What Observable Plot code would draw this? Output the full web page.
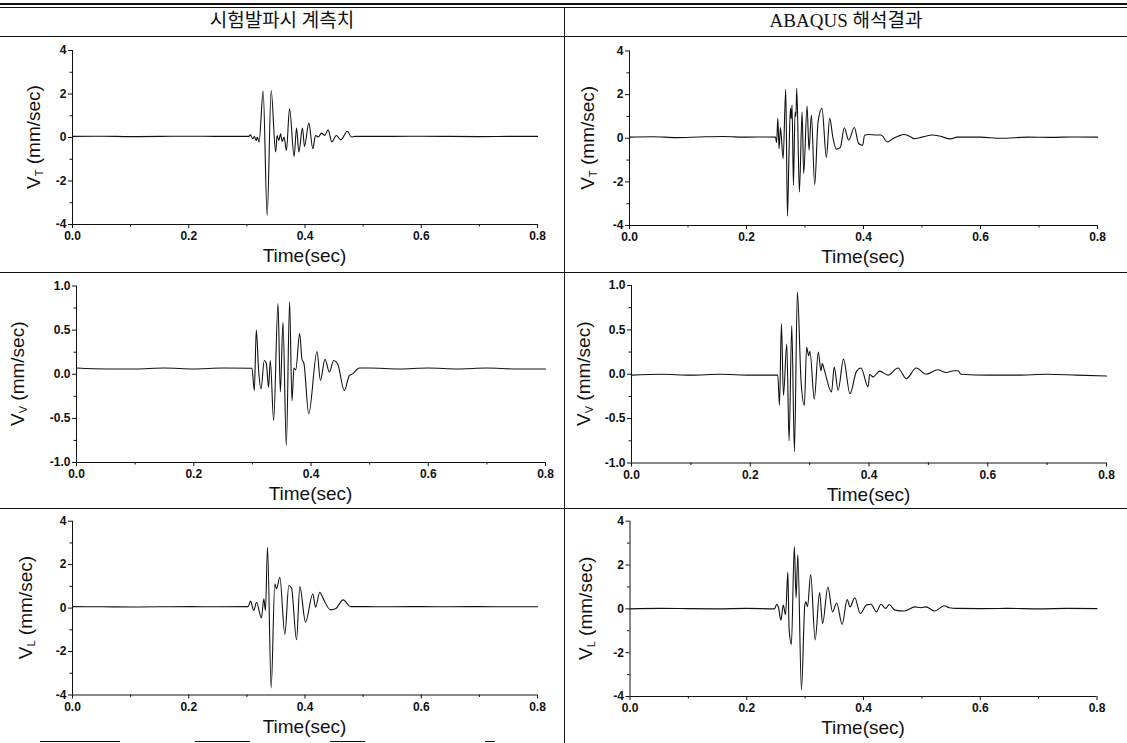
<!DOCTYPE html>
<html><head><meta charset="utf-8">
<script src="https://cdn.jsdelivr.net/npm/d3@7"></script>
<script src="https://cdn.jsdelivr.net/npm/@observablehq/plot@0.6"></script>
<style>
body{margin:0;background:#fff;}
#page{position:relative;width:1127px;height:743px;overflow:hidden;background:#fff;}
.hl{position:absolute;background:#111;}
.hdr{position:absolute;top:6px;height:30px;line-height:30px;text-align:center;font-size:19px;font-family:"Liberation Serif","Noto Sans CJK KR",serif;color:#111;white-space:nowrap;}
.cell{position:absolute;}
</style></head><body><div id="page"></div>
<script>
// ---------- data ----------
const headers = ["시험발파시 계측치", "ABAQUS 해석결과"];
const xTicks = [0, 0.2, 0.4, 0.6, 0.8];
const xMinor = [0.1, 0.3, 0.5, 0.7];
const yTicks4 = [-4, -2, 0, 2, 4];
const yMinor4 = [-3, -1, 1, 3];
const yTicks1 = [-1, -0.5, 0, 0.5, 1];
const yMinor1 = [-0.75, -0.25, 0.25, 0.75];
const xLabel = "Time(sec)";
const yUnit = " (mm/sec)";

// [time (s), velocity (mm/s)]
const measuredVT = [[0,0.05],[0.05,0.06],[0.1,0.04],[0.15,0.05],[0.2,0.06],[0.25,0.05],[0.3033,0.05],[0.306,0.12],[0.31,-0.06],[0.313,0.04],[0.316,-0.14],[0.318,0.02],[0.321,-0.21],[0.328,2.13],[0.3349,-3.59],[0.3418,2.16],[0.3495,-0.67],[0.352,0.09],[0.355,-0.14],[0.358,0.17],[0.3607,-0.18],[0.364,0.02],[0.368,-0.6],[0.3734,1.32],[0.3813,-0.87],[0.3854,0.44],[0.3894,-0.66],[0.3957,0.44],[0.3991,-0.41],[0.4066,0.66],[0.4135,-0.52],[0.418,0.09],[0.423,0.02],[0.4284,0.2],[0.434,0.1],[0.4398,0.35],[0.446,-0.2],[0.454,0.09],[0.4616,-0.11],[0.473,0.29],[0.48,0.02],[0.486,0.05],[0.55,0.05],[0.6,0.06],[0.65,0.05],[0.7,0.04],[0.75,0.05],[0.8,0.05]];

const abaqusVT = [[0,0.05],[0.04,0.07],[0.08,0.03],[0.12,0.06],[0.16,0.08],[0.2,0.05],[0.24,0.06],[0.2495,0.05],[0.2515,-0.2],[0.2535,0.91],[0.2557,-0.48],[0.258,0.49],[0.2626,-0.93],[0.2671,2.24],[0.27,-3.57],[0.2728,-0.5],[0.2751,1.37],[0.2765,0.9],[0.2779,1.52],[0.2802,-2.15],[0.283,1.2],[0.2845,1.0],[0.2859,2.29],[0.2904,-2.46],[0.295,1.21],[0.2978,-1.62],[0.3035,1.48],[0.3069,-0.55],[0.3109,1.06],[0.3166,-2.13],[0.3223,0.75],[0.3291,1.37],[0.3365,-0.88],[0.3422,0.91],[0.3479,0.0],[0.3536,-0.5],[0.3604,-0.42],[0.3672,0.48],[0.3746,-0.09],[0.3843,0.49],[0.3917,-0.24],[0.3985,-0.32],[0.4019,0.14],[0.4087,0.17],[0.422,0.15],[0.43,0.15],[0.441,-0.17],[0.45,-0.02],[0.46,0.1],[0.469,0.17],[0.478,0.1],[0.487,-0.02],[0.5,0.05],[0.518,0.15],[0.53,0.1],[0.549,-0.03],[0.56,0.05],[0.6,0.05],[0.635,0.0],[0.68,0.05],[0.72,0.04],[0.76,0.06],[0.8,0.05]];

const measuredVV = [[0,0.07],[0.05,0.06],[0.1,0.06],[0.15,0.07],[0.2,0.06],[0.25,0.07],[0.2993,0.068],[0.3033,-0.185],[0.3067,0.5],[0.3107,0.04],[0.3147,-0.166],[0.3203,0.155],[0.3237,0.125],[0.3277,-0.147],[0.3306,0.155],[0.3363,-0.525],[0.3437,0.8],[0.3477,-0.2],[0.3522,0.59],[0.3579,-0.81],[0.3635,0.82],[0.3675,-0.3],[0.371,0.07],[0.374,0.05],[0.3806,0.46],[0.3846,0.17],[0.388,0.12],[0.3961,-0.45],[0.4103,0.257],[0.416,-0.07],[0.4239,0.17],[0.4313,0.023],[0.4387,0.155],[0.4455,0.117],[0.4569,-0.185],[0.4654,-0.015],[0.471,0.004],[0.4824,0.07],[0.5,0.07],[0.55,0.06],[0.6,0.07],[0.65,0.06],[0.7,0.07],[0.75,0.06],[0.8,0.06]];

const abaqusVV = [[0,-0.01],[0.05,0.0],[0.1,-0.01],[0.15,0.0],[0.2,-0.01],[0.2464,-0.01],[0.2492,-0.35],[0.2525,0.57],[0.2559,-0.24],[0.2615,0.34],[0.2654,-0.75],[0.2699,0.55],[0.2744,-0.87],[0.2794,0.925],[0.2855,-0.07],[0.2911,-0.35],[0.295,0.305],[0.2984,0.21],[0.3005,0.26],[0.3079,-0.28],[0.3146,0.25],[0.3191,0.04],[0.3213,0.12],[0.3247,0.05],[0.3369,-0.2],[0.3414,0.08],[0.348,-0.18],[0.357,0.17],[0.368,-0.22],[0.3788,0.03],[0.3866,0.07],[0.3984,-0.14],[0.4012,0.0],[0.4068,-0.03],[0.418,0.035],[0.432,-0.01],[0.4488,0.07],[0.4628,-0.05],[0.4796,0.07],[0.4963,0.0],[0.516,0.05],[0.53,0.02],[0.5439,0.04],[0.55,0.04],[0.555,0.0],[0.6,-0.01],[0.65,-0.01],[0.7,0.0],[0.75,-0.01],[0.8,-0.02]];

const measuredVL = [[0,0.07],[0.05,0.06],[0.1,0.05],[0.15,0.06],[0.2,0.07],[0.25,0.06],[0.3022,0.07],[0.3062,0.32],[0.3119,-0.11],[0.3165,0.27],[0.3251,-0.45],[0.3291,0.43],[0.332,-0.11],[0.3355,2.8],[0.3418,-3.67],[0.3481,1.12],[0.351,0.89],[0.3567,1.42],[0.3653,-1.21],[0.3722,1.04],[0.3768,0.93],[0.3854,-1.46],[0.3911,0.99],[0.4009,-0.65],[0.4135,0.66],[0.4181,0.04],[0.4255,0.73],[0.4307,0.47],[0.4439,-0.08],[0.4525,-0.03],[0.4657,0.38],[0.4783,0.07],[0.5,0.07],[0.55,0.06],[0.6,0.07],[0.65,0.06],[0.7,0.07],[0.75,0.06],[0.8,0.06]];

const abaqusVL = [[0,0.0],[0.05,0.02],[0.1,0.01],[0.15,0.0],[0.2,0.02],[0.2475,0.0],[0.2515,0.21],[0.2545,0.05],[0.2585,-0.52],[0.2625,0.17],[0.2665,-0.26],[0.2704,1.68],[0.2725,-0.9],[0.2765,-1.62],[0.2815,2.86],[0.2845,0.5],[0.2875,2.47],[0.2937,-3.7],[0.2995,0.17],[0.3015,0.32],[0.304,0.1],[0.3095,1.56],[0.3172,-1.42],[0.3248,0.74],[0.3299,-0.67],[0.339,1.0],[0.347,-0.14],[0.354,0.27],[0.3635,-0.71],[0.372,0.42],[0.377,0.09],[0.385,0.51],[0.3945,-0.21],[0.405,0.17],[0.413,0.21],[0.422,-0.14],[0.43,0.21],[0.438,0.02],[0.444,0.2],[0.454,-0.06],[0.47,-0.1],[0.488,0.09],[0.498,0.05],[0.507,0.09],[0.522,-0.1],[0.538,0.14],[0.547,0.05],[0.56,0.02],[0.6,0.01],[0.65,0.02],[0.7,0.0],[0.75,0.02],[0.8,0.01]];

// ---------- layout ----------
const page = document.getElementById("page");
function hline(x, y, w, h){ const d=document.createElement("div"); d.className="hl"; Object.assign(d.style,{left:x+"px",top:y+"px",width:w+"px",height:h+"px"}); page.appendChild(d); }
hline(0,3,1127,2);     // top double rule (thick)
hline(0,7,1127,1);     // top double rule (thin)
hline(0,36,1127,1);    // under header
hline(0,272,1127,1);
hline(0,508,1127,1);
hline(564,7,1,736);    // column divider
[[40,80],[195,55],[330,35],[485,10]].forEach(([x,w]) => hline(x,741,w,1));

[[0,564],[565,562]].forEach(([x,w],i) => {
  const d=document.createElement("div"); d.className="hdr"; d.textContent=headers[i];
  Object.assign(d.style,{left:x+"px",width:w+"px"}); page.appendChild(d);
});

const fmt1 = d => (d < 0 ? "-" : "") + Math.abs(d).toFixed(1);
const fmt0 = d => (d < 0 ? "-" : "") + Math.abs(d);

const panels = [
  {data: measuredVT, sub:"T", yt:yTicks4, ym:yMinor4, yf:fmt0, yd:[-4,4], left:0,   top:38,  x0:72,  x1:537,  yT:50,  yB:224, labX:33},
  {data: abaqusVT,   sub:"T", yt:yTicks4, ym:yMinor4, yf:fmt0, yd:[-4,4], left:566, top:38,  x0:629, x1:1097, yT:50.5,yB:225, labX:587},
  {data: measuredVV, sub:"V", yt:yTicks1, ym:yMinor1, yf:fmt1, yd:[-1,1], left:0,   top:274, x0:76,  x1:545,  yT:285.5,yB:462, labX:17},
  {data: abaqusVV,   sub:"V", yt:yTicks1, ym:yMinor1, yf:fmt1, yd:[-1,1], left:566, top:274, x0:631, x1:1106, yT:285, yB:462.5, labX:583},
  {data: measuredVL, sub:"L", yt:yTicks4, ym:yMinor4, yf:fmt0, yd:[-4,4], left:0,   top:510, x0:72,  x1:537,  yT:520.7,yB:694.5, labX:25},
  {data: abaqusVL,   sub:"L", yt:yTicks4, ym:yMinor4, yf:fmt0, yd:[-4,4], left:566, top:510, x0:629.5, x1:1096.5, yT:520.7,yB:696, labX:585}
];

panels.forEach(p => {
  const W = (p.left === 0 ? 562 : 561), H = 232;
  const rows = p.data.map(([t, v]) => ({t, v}));
  const chart = Plot.plot({
    width: W, height: H,
    marginLeft: p.x0 - p.left, marginRight: p.left + W - p.x1,
    marginTop: p.yT - p.top, marginBottom: p.top + H - p.yB,
    style: {background: "transparent", color: "#111", fontFamily: "'Liberation Sans', Arial, sans-serif", fontSize: "12px", fontWeight: "bold", overflow: "visible"},
    x: {domain: [0, 0.8]},
    y: {domain: p.yd},
    marks: [
      Plot.axisX({ticks: xMinor, tickSize: 2.5, tickFormat: () => "", label: null}),
      Plot.axisX({ticks: xTicks, tickSize: 4, tickPadding: 3, tickFormat: fmt1, label: null}),
      Plot.axisY({ticks: p.ym, tickSize: 2.5, tickFormat: () => "", label: null}),
      Plot.axisY({ticks: p.yt, tickSize: 4, tickPadding: 2, tickFormat: p.yf, label: null}),
      Plot.ruleY([p.yd[0]], {stroke: "#111"}),
      Plot.ruleX([0], {stroke: "#111"}),
      Plot.line(rows, {x: "t", y: "v", curve: "monotone-x", stroke: "#111", strokeWidth: 1.1})
    ]
  });
  const svg = d3.select(chart);
  // x label
  svg.append("text")
    .attr("x", (p.x0 + p.x1) / 2 - p.left).attr("y", p.yB - p.top + 38)
    .attr("text-anchor", "middle").attr("font-size", 19).attr("font-weight", "normal").attr("fill", "#111")
    .attr("font-family", "'Liberation Sans', Arial, sans-serif").text(xLabel);
  // y label with subscript
  const yl = svg.append("text")
    .attr("transform", `translate(${p.labX - p.left + 7},${(p.yT + p.yB) / 2 - p.top}) rotate(-90)`)
    .attr("text-anchor", "middle").attr("font-size", 19).attr("font-weight", "normal").attr("fill", "#111")
    .attr("font-family", "'Liberation Sans', Arial, sans-serif");
  yl.append("tspan").text("V");
  yl.append("tspan").attr("font-size", 11).attr("dy", 3).text(p.sub);
  yl.append("tspan").attr("dy", -3).text(yUnit);
  const holder = document.createElement("div");
  holder.className = "cell";
  Object.assign(holder.style, {left: p.left + "px", top: p.top + "px"});
  holder.appendChild(chart);
  page.appendChild(holder);
});
</script></body></html>
